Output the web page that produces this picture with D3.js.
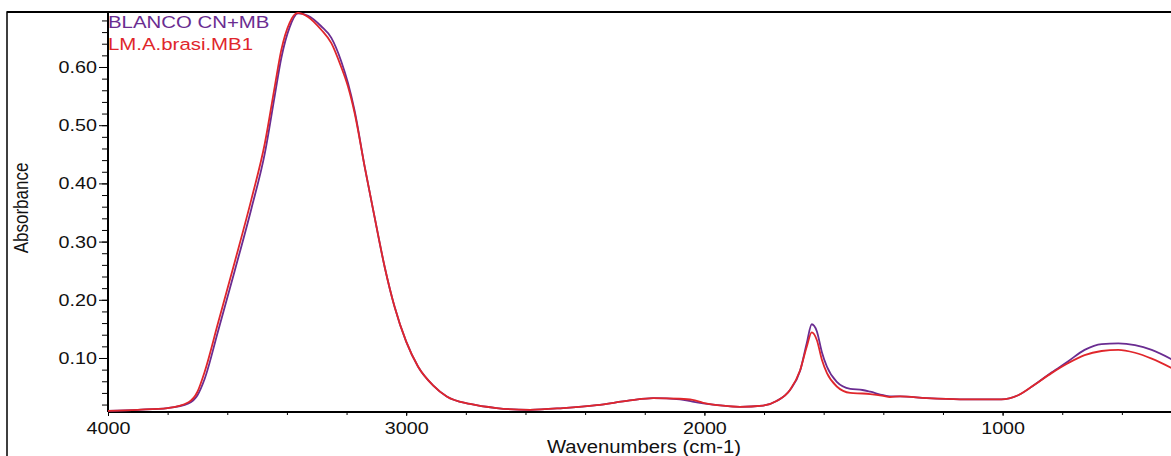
<!DOCTYPE html>
<html lang="en">
<head>
  <meta charset="UTF-8">
  <title>Absorbance spectra</title>
  <script src="https://d3js.org/d3.v7.min.js"></script>
  <style>
    body { margin: 0; background: #fff; }
    svg { display: block; }
  </style>
</head>
<body>
  <svg width="1171" height="456"></svg>

  <script>
    // Wavenumber grid (cm-1) shared by both spectra
    const wavenumbers = [4000, 3900, 3800, 3730, 3700, 3676, 3631, 3575, 3519, 3474, 3441, 3419,
      3391, 3363, 3329, 3285, 3251, 3218, 3195, 3173, 3139, 3106, 3072, 3039, 3000, 2960, 2910,
      2864, 2786, 2697, 2585, 2474, 2361, 2250, 2172, 2082, 2040, 2004, 1938, 1881, 1803, 1758,
      1713, 1679, 1657, 1640, 1623, 1606, 1589, 1556, 1511, 1470, 1444, 1400, 1378, 1344, 1255,
      1143, 1060, 1004, 948, 893, 836, 781, 725, 668, 612, 556, 500, 430];

    const blanco = [0.009, 0.011, 0.014, 0.022, 0.036, 0.064, 0.146, 0.250, 0.357, 0.452, 0.550, 0.615,
      0.668, 0.692, 0.688, 0.670, 0.650, 0.610, 0.572, 0.525, 0.428, 0.342, 0.256, 0.188, 0.128, 0.085, 0.053,
      0.034, 0.021, 0.014, 0.011, 0.014, 0.019, 0.027, 0.031, 0.029, 0.025, 0.022, 0.018, 0.016, 0.018, 0.026,
      0.045, 0.078, 0.125, 0.158, 0.146, 0.110, 0.085, 0.059, 0.047, 0.045, 0.042, 0.036, 0.034, 0.034, 0.031,
      0.029, 0.029, 0.029, 0.036, 0.054, 0.075, 0.094, 0.114, 0.124, 0.125, 0.122, 0.114, 0.097];

    const muestra = [0.009, 0.011, 0.014, 0.024, 0.042, 0.076, 0.160, 0.265, 0.373, 0.469, 0.566, 0.629,
      0.676, 0.693, 0.686, 0.664, 0.641, 0.600, 0.566, 0.521, 0.428, 0.342, 0.256, 0.188, 0.128, 0.085, 0.053,
      0.034, 0.021, 0.014, 0.011, 0.014, 0.019, 0.027, 0.031, 0.030, 0.028, 0.023, 0.018, 0.016, 0.018, 0.026,
      0.045, 0.079, 0.119, 0.144, 0.131, 0.097, 0.074, 0.051, 0.040, 0.039, 0.038, 0.035, 0.033, 0.034, 0.031,
      0.029, 0.029, 0.029, 0.036, 0.054, 0.074, 0.091, 0.105, 0.112, 0.114, 0.109, 0.099, 0.082];

    const seriesNames = ["BLANCO CN+MB", "LM.A.brasi.MB1"];
    const seriesColors = ["#6a2c91", "#e0262b"];
    const xMajorTicks = [4000, 3000, 2000, 1000];
    const yMajorTicks = [0.10, 0.20, 0.30, 0.40, 0.50, 0.60];

    const svg = d3.select("svg");
    const font = "Liberation Sans, Arial, sans-serif";
    const stretch = 1.16; // the source picture is a little wider than tall

    // plot area in pixels
    const plotLeft = 108, plotTop = 12, plotBottom = 412;
    const pxPer1000 = 298.2;

    const x = d3.scaleLinear()
      .domain([4000, 400])
      .range([plotLeft, plotLeft + 3.6 * pxPer1000]);

    const y = d3.scaleLinear()
      .domain([0.0072, 0.6945])
      .range([plotBottom, plotTop]);

    // outer frame (right/bottom edges fall outside the picture)
    svg.append("rect")
      .attr("x", 7).attr("y", plotTop)
      .attr("width", 1300).attr("height", 600)
      .attr("fill", "none")
      .attr("stroke", "#000")
      .attr("stroke-width", 1.5);

    svg.append("clipPath").attr("id", "clip")
      .append("rect")
      .attr("x", plotLeft).attr("y", plotTop)
      .attr("width", 1171 - plotLeft).attr("height", plotBottom - plotTop);

    // x axis: minor ticks every 200, labelled majors every 1000
    const xMinor = d3.range(4000, 399, -200);
    svg.append("g")
      .attr("transform", `translate(0,${plotBottom})`)
      .call(d3.axisBottom(x).tickValues(xMinor).tickSize(3).tickFormat(""))
      .call(g => g.select(".domain").remove());

    svg.append("g")
      .attr("transform", `translate(0,${plotBottom})`)
      .call(d3.axisBottom(x).tickValues(xMajorTicks).tickSize(4).tickPadding(6).tickFormat(d3.format("d")))
      .call(g => g.select(".domain").remove())
      .call(g => g.selectAll("text")
        .attr("font-family", font)
        .attr("font-size", 17)
        .attr("fill", "#111")
        .attr("transform", `scale(${stretch},1)`));

    // y axis: minor ticks every 0.02
    const yMinor = d3.range(0.02, 0.69, 0.02);
    svg.append("g")
      .attr("transform", `translate(${plotLeft},0)`)
      .call(d3.axisLeft(y).tickValues(yMinor).tickSize(6).tickFormat(""))
      .call(g => g.select(".domain").remove());

    svg.append("g")
      .attr("transform", `translate(${plotLeft},0)`)
      .call(d3.axisLeft(y).tickValues(yMajorTicks).tickSize(9).tickPadding(2).tickFormat(d3.format(".2f")))
      .call(g => g.select(".domain").remove())
      .call(g => g.selectAll("text")
        .attr("font-family", font)
        .attr("font-size", 17)
        .attr("fill", "#111")
        .attr("x", 0)
        .attr("transform", `translate(-11,0) scale(${stretch},1)`));

    // axis lines
    svg.append("line")
      .attr("x1", plotLeft).attr("x2", plotLeft)
      .attr("y1", plotTop).attr("y2", plotBottom)
      .attr("stroke", "#000").attr("stroke-width", 2);
    svg.append("line")
      .attr("x1", plotLeft).attr("x2", 1171)
      .attr("y1", plotBottom).attr("y2", plotBottom)
      .attr("stroke", "#000").attr("stroke-width", 2);
    svg.append("line")
      .attr("x1", 7).attr("x2", 1171)
      .attr("y1", plotTop).attr("y2", plotTop)
      .attr("stroke", "#000").attr("stroke-width", 2);

    // spectra
    const line = d3.line()
      .x((d, i) => x(wavenumbers[i]))
      .y(d => y(d))
      .curve(d3.curveMonotoneX);

    const plot = svg.append("g").attr("clip-path", "url(#clip)");
    [blanco, muestra].forEach((vals, i) => {
      plot.append("path")
        .datum(vals)
        .attr("fill", "none")
        .attr("stroke", seriesColors[i])
        .attr("stroke-width", 1.8)
        .attr("d", line);
    });

    // legend in the top-left corner of the plot
    seriesNames.forEach((name, i) => {
      svg.append("text")
        .attr("transform", `translate(${plotLeft},${28 + i * 22}) scale(1.2,1)`)
        .attr("font-family", font)
        .attr("font-size", 17)
        .attr("fill", seriesColors[i])
        .text(name);
    });

    // axis titles
    svg.append("text")
      .attr("transform", "translate(28,208) rotate(-90) scale(1,1.16)")
      .attr("text-anchor", "middle")
      .attr("font-family", font)
      .attr("font-size", 17)
      .attr("fill", "#111")
      .text("Absorbance");

    svg.append("text")
      .attr("transform", `translate(644,453) scale(${stretch},1)`)
      .attr("text-anchor", "middle")
      .attr("font-family", font)
      .attr("font-size", 17.5)
      .attr("fill", "#111")
      .text("Wavenumbers (cm-1)");
  </script>
</body>
</html>
